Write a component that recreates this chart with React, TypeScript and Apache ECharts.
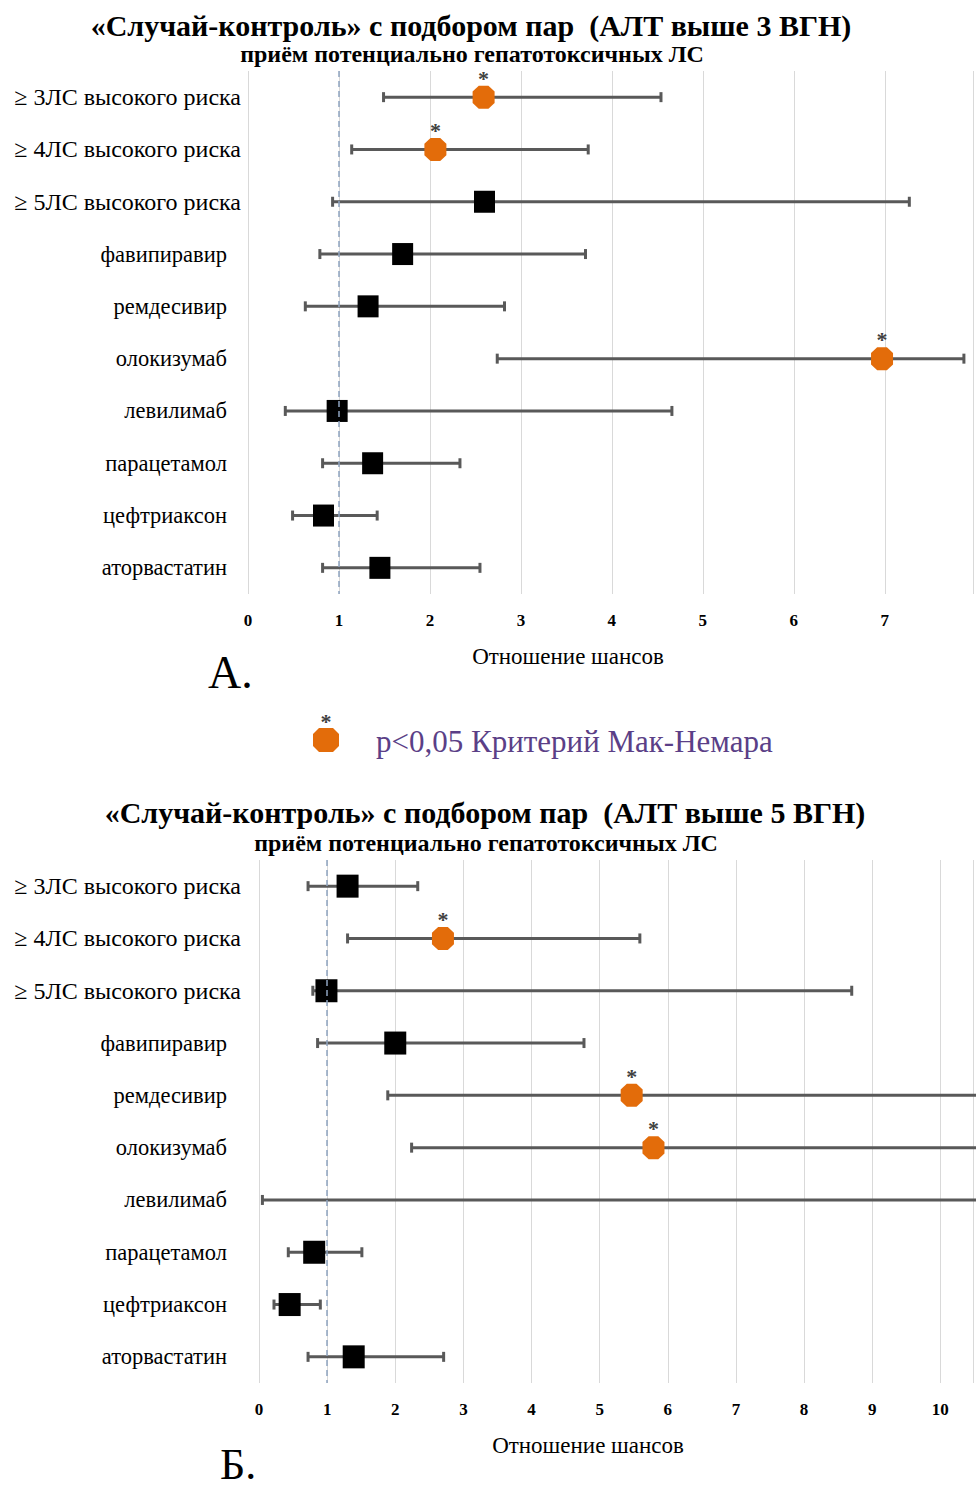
import React, { useEffect, useRef } from 'react';
import * as echarts from 'echarts';

const categories = [
  '≥ 3ЛС высокого риска',
  '≥ 4ЛС высокого риска',
  '≥ 5ЛС высокого риска',
  'фавипиравир',
  'ремдесивир',
  'олокизумаб',
  'левилимаб',
  'парацетамол',
  'цефтриаксон',
  'аторвастатин',
];

// Panel A: ALT > 3 ULN
const orA = [2.59, 2.06, 2.6, 1.7, 1.32, 6.97, 0.98, 1.37, 0.83, 1.45];
const loA = [1.49, 1.14, 0.93, 0.79, 0.63, 2.74, 0.41, 0.82, 0.49, 0.82];
const hiA = [4.54, 3.74, 7.27, 3.71, 2.82, 7.87, 4.66, 2.33, 1.42, 2.55];
const sigA = [true, true, false, false, false, true, false, false, false, false];

// Panel B: ALT > 5 ULN
const orB: (number | null)[] = [1.3, 2.7, 0.99, 2.0, 5.47, 5.79, null, 0.81, 0.45, 1.39];
const loB = [0.72, 1.3, 0.79, 0.86, 1.89, 2.24, 0.05, 0.43, 0.22, 0.72];
const hiB = [2.33, 5.59, 8.7, 4.77, 13, 13, 15, 1.51, 0.9, 2.71];
const sigB = [false, true, false, false, true, true, false, false, false, false];

const ticksA = ['0', '1', '2', '3', '4', '5', '6', '7'];
const ticksB = ['0', '1', '2', '3', '4', '5', '6', '7', '8', '9', '10'];

const titleA = '«Случай-контроль» с подбором пар  (АЛТ выше 3 ВГН)';
const titleB = '«Случай-контроль» с подбором пар  (АЛТ выше 5 ВГН)';
const subtitle = 'приём потенциально гепатотоксичных ЛС';
const axisName = 'Отношение шансов';
const legendText = 'p<0,05 Критерий Мак-Немара';

const FONT = '"Liberation Serif", "Times New Roman", serif';
const ORANGE = '#E36C0A';
const BAR = '#595959';
const OCT = 'path://M28,0 L72,0 L100,25 L100,75 L72,100 L28,100 L0,75 L0,25 Z';

function errorSeries(lo: number[], hi: number[], idx: number) {
  return {
    type: 'custom',
    xAxisIndex: idx,
    yAxisIndex: idx,
    z: 2,
    data: lo.map((l, i) => [i, l, hi[i]]),
    encode: { x: [1, 2], y: 0 },
    renderItem: (params: any, api: any) => {
      const a = api.coord([api.value(1), api.value(0)]);
      const b = api.coord([api.value(2), api.value(0)]);
      const h = 5;
      const st = { stroke: BAR, lineWidth: 3 };
      return {
        type: 'group',
        children: [
          { type: 'line', shape: { x1: a[0], y1: a[1], x2: b[0], y2: b[1] }, style: st },
          { type: 'line', shape: { x1: a[0], y1: a[1] - h, x2: a[0], y2: a[1] + h }, style: st },
          { type: 'line', shape: { x1: b[0], y1: b[1] - h, x2: b[0], y2: b[1] + h }, style: st },
        ],
      };
    },
  };
}

function pointSeries(or: (number | null)[], sig: boolean[], idx: number, wantSig: boolean, size: number[]) {
  const data: any[] = [];
  or.forEach((v, i) => {
    if (v !== null && sig[i] === wantSig) data.push([v, i]);
  });
  const s: any = {
    type: 'scatter',
    xAxisIndex: idx,
    yAxisIndex: idx,
    z: 3,
    data,
    symbol: wantSig ? OCT : 'rect',
    symbolSize: size,
    itemStyle: { color: wantSig ? ORANGE : '#000', opacity: 1 },
    emphasis: { disabled: true },
  };
  if (wantSig) {
    s.label = {
      show: true,
      position: 'inside',
      offset: [0, -19],
      formatter: '*',
      fontSize: 22,
      fontWeight: 'bold',
      fontFamily: FONT,
      color: '#404040',
    };
  } else {
    s.markLine = {
      silent: true,
      symbol: 'none',
      label: { show: false },
      lineStyle: { type: [6, 4], color: '#8EA4C0', width: 1.5 },
      data: [{ xAxis: 1 }],
    };
  }
  return s;
}

function xAxis(idx: number, max: number, ticks: string[]) {
  return {
    type: 'value',
    gridIndex: idx,
    min: 0,
    max,
    interval: 1,
    axisLine: { show: false },
    axisTick: { show: false },
    splitLine: { show: true, lineStyle: { color: '#d9d9d9', width: 1 } },
    axisLabel: {
      margin: 18,
      fontFamily: FONT,
      fontWeight: 'bold',
      fontSize: 17,
      color: '#000',
      formatter: (v: number) => (ticks.indexOf(String(v)) >= 0 ? String(v) : ''),
    },
  };
}

function yAxis(idx: number, margin: number) {
  return {
    type: 'category',
    gridIndex: idx,
    data: categories,
    inverse: true,
    axisLine: { show: false },
    axisTick: { show: false },
    splitLine: { show: false },
    axisLabel: {
      margin,
      formatter: (v: string) => (v.indexOf('≥') === 0 ? `{a|${v}}` : `{b|${v}}`),
      rich: {
        a: { fontFamily: FONT, fontSize: 24, color: '#000' },
        b: { fontFamily: FONT, fontSize: 22.5, color: '#000', padding: [0, 14, 0, 0] },
      },
    },
  };
}

function txt(text: string, x: number, y: number, size: number, bold: boolean, color = '#000', align = 'center') {
  return {
    type: 'text',
    x,
    y,
    silent: true,
    style: {
      text,
      fill: color,
      font: `${bold ? 'bold ' : ''}${size}px ${FONT}`,
      align,
      verticalAlign: 'middle',
    },
  };
}

const option: any = {
  animation: false,
  backgroundColor: '#fff',
  grid: [
    { left: 248, top: 71, right: 0, height: 523 },
    { left: 259, top: 860, right: 0, height: 523 },
  ],
  xAxis: [xAxis(0, 7.97, ticksA), xAxis(1, 10.48, ticksB)],
  yAxis: [yAxis(0, 7), yAxis(1, 18)],
  series: [
    errorSeries(loA, hiA, 0),
    pointSeries(orA, sigA, 0, false, [21, 22]),
    pointSeries(orA, sigA, 0, true, [22, 23]),
    errorSeries(loB, hiB, 1),
    pointSeries(orB, sigB, 1, false, [22, 23]),
    pointSeries(orB, sigB, 1, true, [22, 23]),
  ],
  graphic: [
    txt(titleA, 471, 25, 30, true),
    txt(subtitle, 472, 54, 24, true),
    txt(axisName, 568, 656, 23, false),
    txt('А.', 208, 672, 46, false, '#000', 'left'),
    {
      type: 'polygon',
      silent: true,
      shape: {
        points: [
          [319, 728], [333, 728], [339, 734], [339, 746], [333, 752], [319, 752], [313, 746], [313, 734],
        ],
      },
      style: { fill: ORANGE },
    },
    txt('*', 326, 721, 22, true, '#404040'),
    txt(legendText, 376, 741, 31, false, '#5B3F87', 'left'),
    txt(titleB, 485, 812, 30, true),
    txt(subtitle, 486, 843, 24, true),
    txt(axisName, 588, 1445, 23, false),
    txt('Б.', 220, 1464, 44, false, '#000', 'left'),
  ],
};

export default function App() {
  const ref = useRef<HTMLDivElement>(null);
  useEffect(() => {
    document.body.style.margin = '0';
    const chart = echarts.init(ref.current as HTMLDivElement, null, { renderer: 'svg' });
    chart.setOption(option);
    return () => chart.dispose();
  }, []);
  return <div ref={ref} style={{ width: 976, height: 1488 }} />;
}
